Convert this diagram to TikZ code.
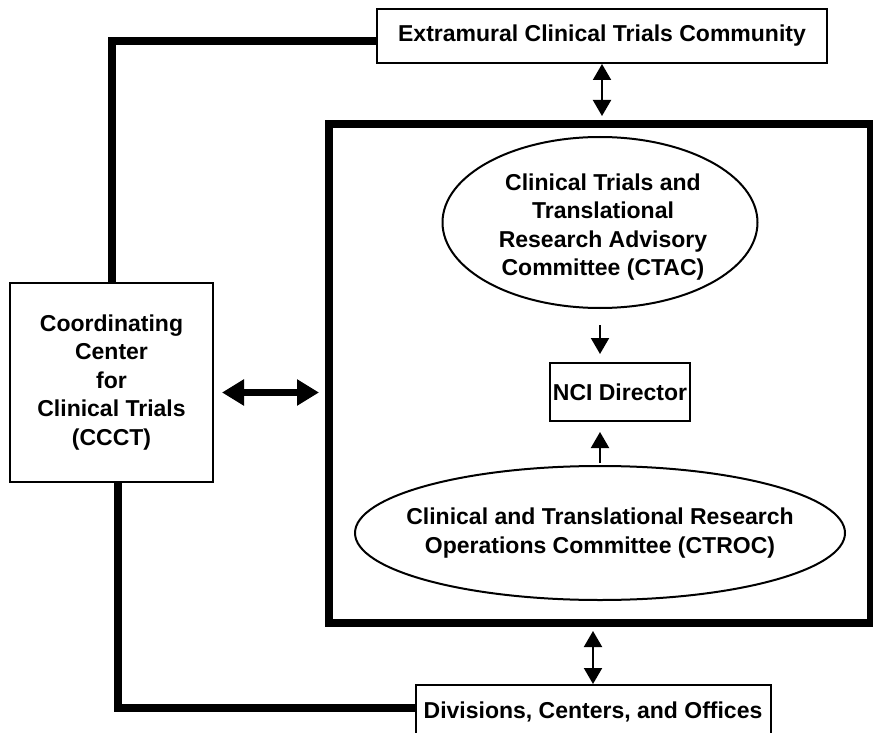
\documentclass[tikz,border=0pt]{standalone}
\usepackage{fontspec}
\setmainfont{Liberation Sans}
\usetikzlibrary{arrows.meta, shapes.geometric}

\begin{document}
\begin{tikzpicture}[x=1pt, y=-1pt,
  font=\bfseries\fontsize{23}{28.5}\selectfont,
  box/.style={draw, line width=2pt, align=center, inner sep=0pt},
  oval/.style={draw, ellipse, line width=2pt, inner sep=0pt},
  txt/.style={align=center, inner sep=0pt},
  frame/.style={draw, line width=8pt, inner sep=0pt},
  bar/.style={line width=8pt},
  link/.style={line width=2pt, {Triangle[width=18pt,length=16pt]}-{Triangle[width=18pt,length=16pt]}},
  arr/.style={line width=2pt, -{Triangle[width=18pt,length=16pt]}},
  fatlink/.style={line width=7pt, {Triangle[width=25pt,length=22pt]}-{Triangle[width=25pt,length=22pt]}}]
\useasboundingbox (0,0) rectangle (873,733);

\node[box, minimum width=450pt, minimum height=54pt] (ecc) at (602,36) {Extramural Clinical Trials Community};
\node[box, minimum width=203pt, minimum height=199pt] (ccct) at (111.5,382.5) {Coordinating\\Center\\for\\Clinical Trials\\(CCCT)};
\node[frame, minimum width=542pt, minimum height=499pt] (nci) at (600,373.5) {};
\node[oval, minimum width=315pt, minimum height=171pt] (ctac) at (600,222.5) {};
\node[txt] (ctact) at (603,227) {Clinical Trials and\\Translational\\Research Advisory\\Committee (CTAC)};
\node[box, minimum width=140pt, minimum height=58pt] (dir) at (620,392) {NCI Director};
\node[oval, minimum width=490pt, minimum height=134pt] (ctroc) at (600,533) {};
\node[txt] (ctroct) at (600,533) {Clinical and Translational Research\\Operations Committee (CTROC)};
\node[box, minimum width=355pt, minimum height=54pt] (dco) at (593,712) {Divisions, Centers, and Offices};

\draw[bar] (ccct.north) |- ([yshift=-5pt]ecc.west);
\draw[bar] ([xshift=6pt]ccct.south) |- ([yshift=4pt]dco.west);
\draw[link, shorten >=4pt] (ecc.south) -- (ecc.south |- nci.north);
\draw[link, shorten >=4pt] (dco.north) -- (dco.north |- nci.south);
\draw[fatlink, shorten <=8pt, shorten >=6pt] ([yshift=-10pt]ccct.east) -- ([yshift=-10pt]ccct.east -| nci.west);
\draw[arr, shorten <=16pt, shorten >=8pt] (ctac.south) -- (ctac.south |- dir.north);
\draw[arr, shorten <=2pt, shorten >=10pt] (ctroc.north) -- (ctroc.north |- dir.south);
\end{tikzpicture}
\end{document}
